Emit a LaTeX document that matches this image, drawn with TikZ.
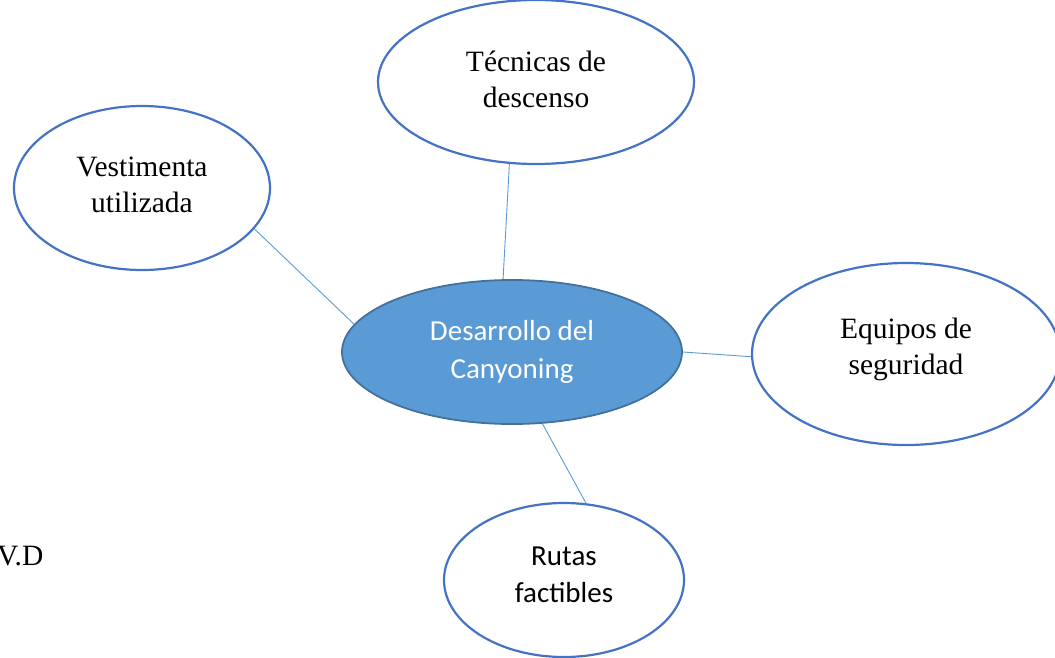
\documentclass[tikz,border=0pt]{standalone}
\usepackage{fontspec}
\setmainfont{Liberation Serif}
\newfontfamily\calibri{Carlito}
\usetikzlibrary{shapes.geometric}
\definecolor{azul}{HTML}{5B9BD5}
\definecolor{borde}{HTML}{4472C4}
\definecolor{bordecentro}{HTML}{41719C}
% sube el texto dentro de la elipse
\newcommand{\subir}[1]{\rule[-#1pt]{0pt}{0pt}}
\begin{document}
\begin{tikzpicture}[x=1pt, y=-1pt,
    tema/.style={ellipse, draw=borde, line width=2.2pt, fill=white, inner sep=0pt,
        align=center, font=\fontsize{29.5}{36}\selectfont},
    enlace/.style={draw=azul, line width=0.9pt}]
    % marco de la imagen
    \useasboundingbox (0,0) rectangle (1055,657);

    % nodo central
    \node[ellipse, draw=bordecentro, line width=1.8pt, fill=azul, text=white, inner sep=0pt,
        minimum width=340, minimum height=144, align=center,
        font=\calibri\fontsize{29}{38}\selectfont] (centro) at (512,352) {Desarrollo del\\Canyoning};

    % temas alrededor
    \node[tema, minimum width=316, minimum height=164] (tecnicas) at (536,82) {Técnicas de\\descenso\subir{6}};
    \node[tema, minimum width=256, minimum height=164] (vestimenta) at (142,188) {Vestimenta\\utilizada\subir{7}};
    \node[tema, minimum width=308, minimum height=182] (equipos) at (906,354) {Equipos de\\seguridad\subir{16}};
    \node[tema, minimum width=240, minimum height=154, font=\calibri\fontsize{29}{37}\selectfont] (rutas) at (564,580) {Rutas\\factibles\subir{10}};

    % texto suelto a la izquierda
    \node[anchor=west, inner sep=0pt, font=\fontsize{29.5}{36}\selectfont] (vd) at (-3,556) {V.D};

    % lineas hacia el centro
    \draw[enlace] (tecnicas.-108) -- (centro.97);
    \draw[enlace] (vestimenta.-20) -- (centro.170);
    \draw[enlace] (centro.0) -- (equipos.181);
    \draw[enlace] (centro.-67) -- (rutas.74);
\end{tikzpicture}
\end{document}
